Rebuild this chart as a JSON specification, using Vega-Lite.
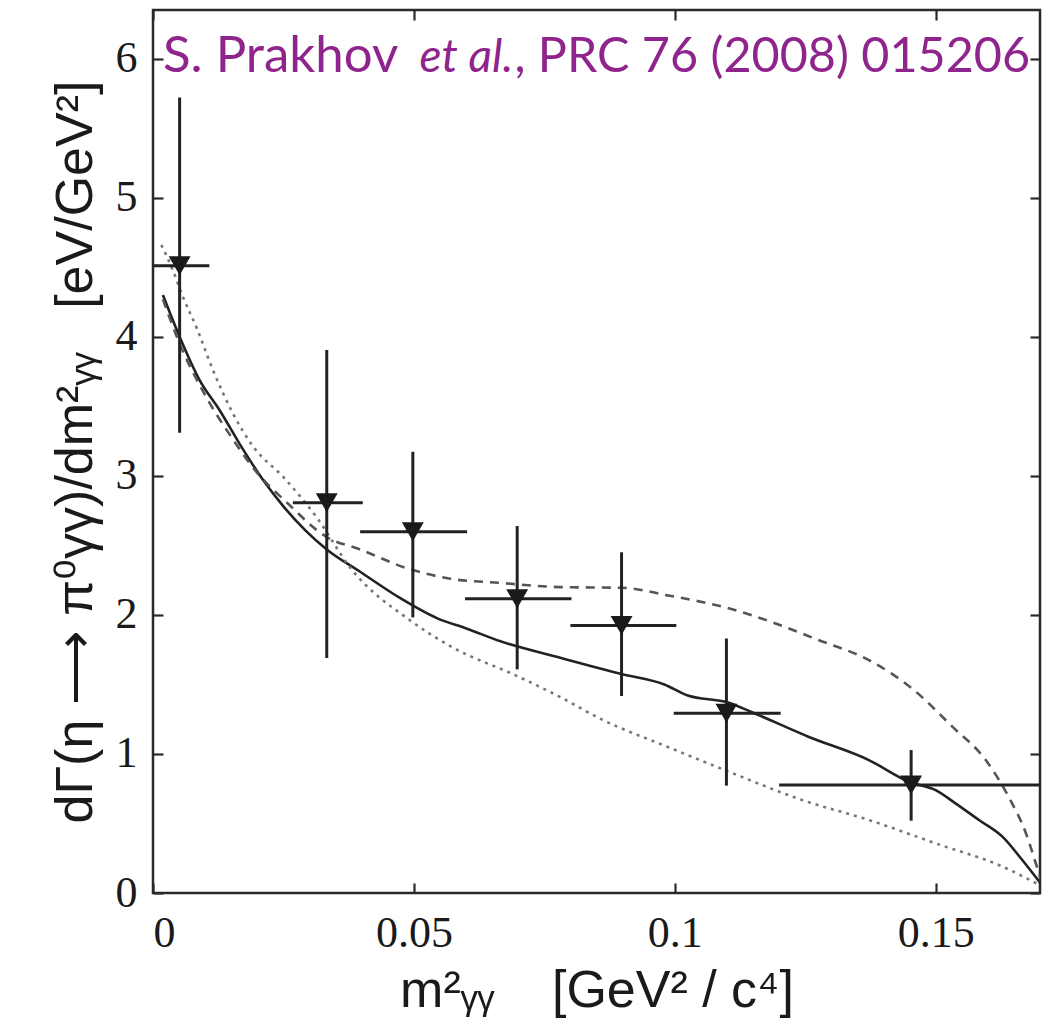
{
  "$schema": "https://vega.github.io/schema/vega-lite/v6.json",
  "autosize": {"type": "none"},
  "width": 887,
  "height": 883,
  "padding": {"left": 153, "top": 10, "right": 11, "bottom": 134},
  "background": "white",
  "config": {
    "view": {"stroke": "#2a2a2a", "strokeWidth": 2.5},
    "axis": {"grid": false, "domain": false, "tickColor": "#2a2a2a", "tickWidth": 2.2, "tickSize": 10, "offset": -10,
             "labelFont": "Liberation Serif", "labelFontSize": 44, "labelColor": "#1a1a1a",
             "titleFont": "Liberation Sans", "titleFontSize": 52, "titleFontWeight": "normal", "titleColor": "#1a1a1a"}
  },
  "datasets": {
    "points": [
      {"x": 0.0051, "y": 4.51, "xlo": 0.0, "xhi": 0.0108, "ylo": 3.31, "yhi": 5.72},
      {"x": 0.0333, "y": 2.807, "xlo": 0.0268, "xhi": 0.0402, "ylo": 1.69, "yhi": 3.905},
      {"x": 0.0498, "y": 2.598, "xlo": 0.0397, "xhi": 0.0602, "ylo": 1.982, "yhi": 3.173},
      {"x": 0.0698, "y": 2.116, "xlo": 0.0598, "xhi": 0.0802, "ylo": 1.608, "yhi": 2.639},
      {"x": 0.0898, "y": 1.924, "xlo": 0.08, "xhi": 0.1003, "ylo": 1.417, "yhi": 2.45},
      {"x": 0.1099, "y": 1.292, "xlo": 0.0998, "xhi": 0.1203, "ylo": 0.772, "yhi": 1.83},
      {"x": 0.1453, "y": 0.777, "xlo": 0.12, "xhi": 0.17, "ylo": 0.52, "yhi": 1.028}
    ],
    "curves": [
      {"model": "solid", "x": 0.0019, "y": 4.30},
      {"model": "solid", "x": 0.0051, "y": 4.00},
      {"model": "solid", "x": 0.0089, "y": 3.69},
      {"model": "solid", "x": 0.0128, "y": 3.47},
      {"model": "solid", "x": 0.0166, "y": 3.23},
      {"model": "solid", "x": 0.0211, "y": 2.97},
      {"model": "solid", "x": 0.025, "y": 2.78},
      {"model": "solid", "x": 0.0333, "y": 2.47},
      {"model": "solid", "x": 0.0397, "y": 2.31},
      {"model": "solid", "x": 0.0474, "y": 2.12},
      {"model": "solid", "x": 0.0545, "y": 1.975},
      {"model": "solid", "x": 0.0602, "y": 1.90},
      {"model": "solid", "x": 0.0666, "y": 1.81},
      {"model": "solid", "x": 0.0782, "y": 1.69},
      {"model": "solid", "x": 0.0898, "y": 1.575},
      {"model": "solid", "x": 0.098, "y": 1.50},
      {"model": "solid", "x": 0.1025, "y": 1.42},
      {"model": "solid", "x": 0.1102, "y": 1.37},
      {"model": "solid", "x": 0.1148, "y": 1.30},
      {"model": "solid", "x": 0.1256, "y": 1.124},
      {"model": "solid", "x": 0.1372, "y": 0.956},
      {"model": "solid", "x": 0.1449, "y": 0.80},
      {"model": "solid", "x": 0.15, "y": 0.74},
      {"model": "solid", "x": 0.1538, "y": 0.645},
      {"model": "solid", "x": 0.1583, "y": 0.525},
      {"model": "solid", "x": 0.1628, "y": 0.405},
      {"model": "solid", "x": 0.1666, "y": 0.237},
      {"model": "solid", "x": 0.1705, "y": 0.05},
      {"model": "dashed", "x": 0.0019, "y": 4.27},
      {"model": "dashed", "x": 0.005, "y": 3.96},
      {"model": "dashed", "x": 0.01, "y": 3.58},
      {"model": "dashed", "x": 0.015, "y": 3.28},
      {"model": "dashed", "x": 0.02, "y": 3.02},
      {"model": "dashed", "x": 0.0256, "y": 2.81},
      {"model": "dashed", "x": 0.0333, "y": 2.56},
      {"model": "dashed", "x": 0.0397, "y": 2.47},
      {"model": "dashed", "x": 0.0487, "y": 2.335},
      {"model": "dashed", "x": 0.057, "y": 2.26},
      {"model": "dashed", "x": 0.0666, "y": 2.23},
      {"model": "dashed", "x": 0.078, "y": 2.20},
      {"model": "dashed", "x": 0.0898, "y": 2.195},
      {"model": "dashed", "x": 0.0987, "y": 2.14},
      {"model": "dashed", "x": 0.1115, "y": 2.035},
      {"model": "dashed", "x": 0.1192, "y": 1.94},
      {"model": "dashed", "x": 0.1275, "y": 1.82},
      {"model": "dashed", "x": 0.1372, "y": 1.675},
      {"model": "dashed", "x": 0.1455, "y": 1.47},
      {"model": "dashed", "x": 0.1532, "y": 1.196},
      {"model": "dashed", "x": 0.1596, "y": 0.956},
      {"model": "dashed", "x": 0.164, "y": 0.69},
      {"model": "dashed", "x": 0.1673, "y": 0.43},
      {"model": "dashed", "x": 0.1698, "y": 0.14},
      {"model": "dashed", "x": 0.1706, "y": 0.045},
      {"model": "dotted", "x": 0.0016, "y": 4.66},
      {"model": "dotted", "x": 0.0038, "y": 4.48},
      {"model": "dotted", "x": 0.0057, "y": 4.29},
      {"model": "dotted", "x": 0.0083, "y": 4.07},
      {"model": "dotted", "x": 0.0115, "y": 3.76},
      {"model": "dotted", "x": 0.0153, "y": 3.45},
      {"model": "dotted", "x": 0.0192, "y": 3.21},
      {"model": "dotted", "x": 0.025, "y": 2.99},
      {"model": "dotted", "x": 0.0314, "y": 2.70},
      {"model": "dotted", "x": 0.0378, "y": 2.34},
      {"model": "dotted", "x": 0.0493, "y": 1.96},
      {"model": "dotted", "x": 0.057, "y": 1.775},
      {"model": "dotted", "x": 0.0698, "y": 1.56},
      {"model": "dotted", "x": 0.078, "y": 1.41},
      {"model": "dotted", "x": 0.0859, "y": 1.25},
      {"model": "dotted", "x": 0.0987, "y": 1.05},
      {"model": "dotted", "x": 0.1115, "y": 0.855},
      {"model": "dotted", "x": 0.1243, "y": 0.67},
      {"model": "dotted", "x": 0.1372, "y": 0.525},
      {"model": "dotted", "x": 0.15, "y": 0.357},
      {"model": "dotted", "x": 0.1628, "y": 0.19},
      {"model": "dotted", "x": 0.1705, "y": 0.045}
    ],
    "notes": [
      {"x": 0.0019, "y": 5.904, "text": "S. Prakhov", "style": "normal", "side": "left"},
      {"x": 0.0511, "y": 5.904, "text": "et al.", "style": "italic", "side": "left"},
      {"x": 0.1681, "y": 5.904, "text": ", PRC 76 (2008) 015206", "style": "normal", "side": "right"}
    ]
  },
  "layer": [
    {
      "layer": [
        {
          "data": {"name": "curves"},
          "transform": [{"filter": "datum.model === 'solid'"}],
          "mark": {"type": "line", "color": "#222222", "strokeWidth": 2.6, "interpolate": "monotone", "clip": true},
          "encoding": {
            "x": {"field": "x", "type": "quantitative", "scale": {"domain": [0, 0.17], "nice": false, "zero": false},
                  "axis": {"values": [0, 0.05, 0.1, 0.15], "format": "~g", "labelPadding": 18, "title": "m²ᵧᵧ\u00a0\u00a0\u00a0 [GeV² / c⁴]", "titlePadding": 10}},
            "y": {"field": "y", "type": "quantitative", "scale": {"domain": [0, 6.35], "nice": false},
                  "axis": {"values": [0, 1, 2, 3, 4, 5, 6], "format": "d", "labelPadding": 16, "title": "dΓ(η ⟶ π⁰γγ)/dm²ᵧᵧ\u00a0\u00a0 [eV/GeV²]", "titlePadding": 13, "titleFontSize": 52}}
          }
        },
        {
          "data": {"name": "curves"},
          "transform": [{"filter": "datum.model === 'dashed'"}],
          "mark": {"type": "line", "color": "#555555", "strokeWidth": 2.6, "strokeDash": [9, 7], "interpolate": "monotone", "clip": true},
          "encoding": {
            "x": {"field": "x", "type": "quantitative"},
            "y": {"field": "y", "type": "quantitative"}
          }
        },
        {
          "data": {"name": "curves"},
          "transform": [{"filter": "datum.model === 'dotted'"}],
          "mark": {"type": "line", "color": "#777777", "strokeWidth": 2.6, "strokeDash": [3, 5], "interpolate": "monotone", "clip": true},
          "encoding": {
            "x": {"field": "x", "type": "quantitative"},
            "y": {"field": "y", "type": "quantitative"}
          }
        },
        {
          "data": {"name": "points"},
          "mark": {"type": "rule", "color": "#222222", "strokeWidth": 3},
          "encoding": {
            "x": {"field": "xlo", "type": "quantitative"},
            "x2": {"field": "xhi"},
            "y": {"field": "y", "type": "quantitative"}
          }
        },
        {
          "data": {"name": "points"},
          "mark": {"type": "rule", "color": "#222222", "strokeWidth": 3},
          "encoding": {
            "x": {"field": "x", "type": "quantitative"},
            "y": {"field": "ylo", "type": "quantitative"},
            "y2": {"field": "yhi"}
          }
        },
        {
          "data": {"name": "points"},
          "mark": {"type": "point", "shape": "triangle-down", "filled": true, "color": "#1a1a1a", "size": 480, "opacity": 1},
          "encoding": {
            "x": {"field": "x", "type": "quantitative"},
            "y": {"field": "y", "type": "quantitative"}
          }
        },
        {
          "data": {"name": "notes"},
          "transform": [{"filter": "datum.side === 'left' && datum.style === 'normal'"}],
          "mark": {"type": "text", "align": "left", "baseline": "alphabetic", "font": "Lato", "fontSize": 51, "color": "#8f248c"},
          "encoding": {
            "x": {"field": "x", "type": "quantitative"},
            "y": {"field": "y", "type": "quantitative"},
            "text": {"field": "text"}
          }
        },
        {
          "data": {"name": "notes"},
          "transform": [{"filter": "datum.side === 'right'"}],
          "mark": {"type": "text", "align": "right", "baseline": "alphabetic", "font": "Lato", "fontSize": 48.5, "color": "#8f248c"},
          "encoding": {
            "x": {"field": "x", "type": "quantitative"},
            "y": {"field": "y", "type": "quantitative"},
            "text": {"field": "text"}
          }
        },
        {
          "data": {"name": "notes"},
          "transform": [{"filter": "datum.style === 'italic'"}],
          "mark": {"type": "text", "align": "left", "baseline": "alphabetic", "font": "Lato", "fontStyle": "italic", "fontSize": 46, "color": "#8f248c"},
          "encoding": {
            "x": {"field": "x", "type": "quantitative"},
            "y": {"field": "y", "type": "quantitative"},
            "text": {"field": "text"}
          }
        }
      ]
    },
    {
      "data": {"name": "points"},
      "mark": {"type": "point", "opacity": 0},
      "encoding": {
        "x": {"field": "x", "type": "quantitative", "scale": {"domain": [0, 0.17], "nice": false, "zero": false},
              "axis": {"orient": "top", "values": [0, 0.05, 0.1, 0.15], "labels": false, "title": null}},
        "y": {"field": "y", "type": "quantitative", "scale": {"domain": [0, 6.35], "nice": false},
              "axis": {"orient": "right", "values": [0, 1, 2, 3, 4, 5, 6], "labels": false, "title": null}}
      }
    }
  ],
  "resolve": {"scale": {"x": "independent", "y": "independent"}, "axis": {"x": "independent", "y": "independent"}}
}
